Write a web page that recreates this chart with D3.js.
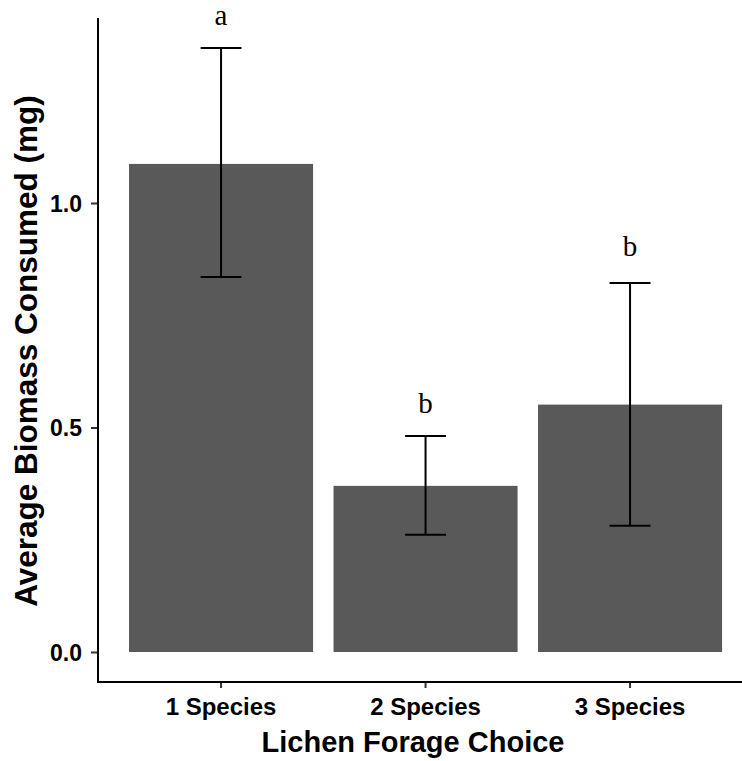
<!DOCTYPE html>
<html>
<head>
<meta charset="utf-8">
<script src="https://cdn.jsdelivr.net/npm/d3@7"></script>
<style>
  html, body { margin: 0; padding: 0; background: #fff; }
  svg { display: block; }
</style>
</head>
<body>
<svg id="chart" width="742" height="761"></svg>
<script>
const categories = ["1 Species", "2 Species", "3 Species"];
const means = [1.087, 0.370, 0.551];
const lower = [0.835, 0.261, 0.281];
const upper = [1.345, 0.481, 0.822];
const letters = ["a", "b", "b"];
const letterY = [1.396, 0.532, 0.882];
const yTicks = [0.0, 0.5, 1.0];

const svg = d3.select("#chart");
const W = 742, H = 761;
const panelLeft = 98, panelBottom = 682, panelTop = 18;

const y = d3.scaleLinear().domain([0, 1.412]).range([652, panelTop]);
const x = d3.scaleBand().domain(categories).range([118.8, 732.3])
  .paddingInner(0.1).paddingOuter(0.05);

const g = svg.append("g");

// bars
g.selectAll("rect.bar").data(categories).enter().append("rect")
  .attr("class", "bar")
  .attr("x", d => x(d))
  .attr("width", x.bandwidth())
  .attr("y", (d, i) => y(means[i]))
  .attr("height", (d, i) => y(0) - y(means[i]))
  .attr("fill", "#595959");

// error bars
const capW = x.step() * 0.2;
const eb = g.selectAll("g.eb").data(categories).enter().append("g").attr("class", "eb");
eb.append("line")
  .attr("x1", d => x(d) + x.bandwidth() / 2).attr("x2", d => x(d) + x.bandwidth() / 2)
  .attr("y1", (d, i) => y(lower[i])).attr("y2", (d, i) => y(upper[i]))
  .attr("stroke", "#000").attr("stroke-width", 2);
eb.append("line")
  .attr("x1", d => x(d) + x.bandwidth() / 2 - capW / 2).attr("x2", d => x(d) + x.bandwidth() / 2 + capW / 2)
  .attr("y1", (d, i) => y(upper[i])).attr("y2", (d, i) => y(upper[i]))
  .attr("stroke", "#000").attr("stroke-width", 2);
eb.append("line")
  .attr("x1", d => x(d) + x.bandwidth() / 2 - capW / 2).attr("x2", d => x(d) + x.bandwidth() / 2 + capW / 2)
  .attr("y1", (d, i) => y(lower[i])).attr("y2", (d, i) => y(lower[i]))
  .attr("stroke", "#000").attr("stroke-width", 2);

// letters
g.selectAll("text.letter").data(categories).enter().append("text")
  .attr("class", "letter")
  .attr("x", d => x(d) + x.bandwidth() / 2)
  .attr("y", (d, i) => y(letterY[i]))
  .attr("text-anchor", "middle")
  .style("font-family", "'Liberation Serif', 'Times New Roman', serif")
  .style("font-size", "29px")
  .attr("fill", "#000")
  .text((d, i) => letters[i]);

// y axis
const yAxis = d3.axisLeft(y).tickValues(yTicks).tickFormat(d3.format(".1f")).tickSize(7).tickPadding(9);
const ya = svg.append("g").attr("transform", `translate(${panelLeft},0)`).call(yAxis);
ya.select(".domain").remove();
ya.selectAll(".tick line").attr("stroke", "#333").attr("stroke-width", 2);
ya.selectAll(".tick text")
  .style("font-family", "'Liberation Sans', Arial, sans-serif")
  .style("font-size", "23px").style("font-weight", "bold").attr("fill", "#000")
  .attr("dy", "0.36em");

// x axis
const xAxis = d3.axisBottom(x).tickSize(6).tickPadding(10);
const xa = svg.append("g").attr("transform", `translate(0,${panelBottom})`).call(xAxis);
xa.select(".domain").remove();
xa.selectAll(".tick line").attr("stroke", "#333").attr("stroke-width", 2);
xa.selectAll(".tick text")
  .style("font-family", "'Liberation Sans', Arial, sans-serif")
  .style("font-size", "24px").style("font-weight", "bold").attr("fill", "#000");

// axis lines
svg.append("line").attr("x1", panelLeft).attr("x2", panelLeft)
  .attr("y1", panelTop).attr("y2", panelBottom + 1)
  .attr("stroke", "#000").attr("stroke-width", 2);
svg.append("line").attr("x1", panelLeft - 1).attr("x2", W)
  .attr("y1", panelBottom).attr("y2", panelBottom)
  .attr("stroke", "#000").attr("stroke-width", 2);

// titles
svg.append("text")
  .attr("x", 413).attr("y", 752)
  .attr("text-anchor", "middle")
  .style("font-family", "'Liberation Sans', Arial, sans-serif")
  .style("font-size", "29px").style("font-weight", "bold").attr("fill", "#000")
  .text("Lichen Forage Choice");

svg.append("text")
  .attr("transform", `translate(37,351) rotate(-90)`)
  .attr("text-anchor", "middle")
  .style("font-family", "'Liberation Sans', Arial, sans-serif")
  .style("font-size", "31.5px").style("font-weight", "bold").attr("fill", "#000")
  .text("Average Biomass Consumed (mg)");
</script>
</body>
</html>
